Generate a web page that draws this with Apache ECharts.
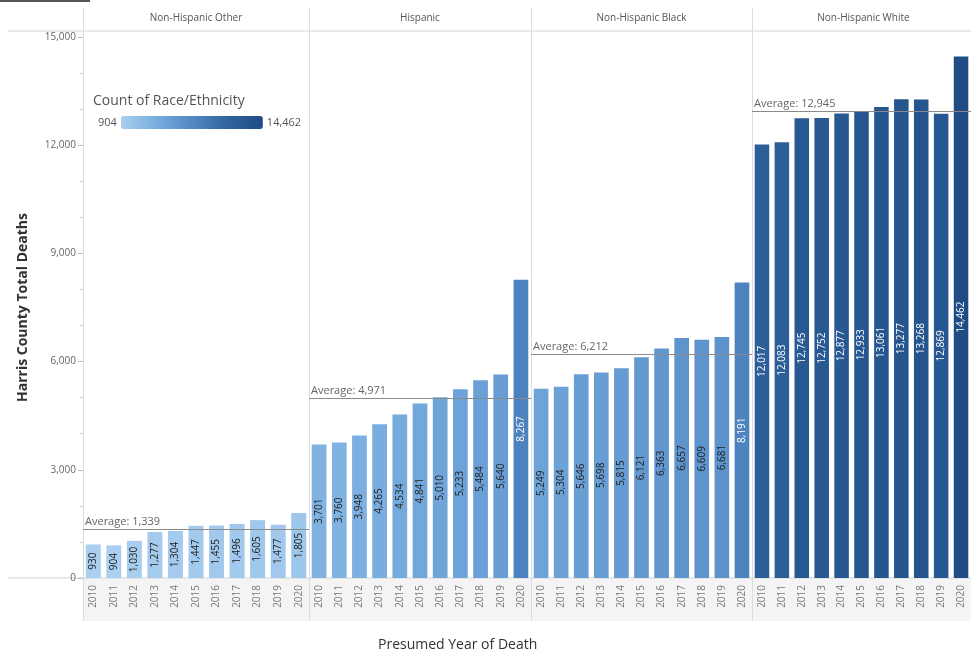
<!DOCTYPE html>
<html>
<head>
<meta charset="utf-8">
<title>Harris County Total Deaths by Race/Ethnicity</title>
<script src="https://cdn.jsdelivr.net/npm/echarts@6/dist/echarts.min.js"></script>
<style>
  html, body { margin: 0; padding: 0; background: #ffffff; }
  #chart { width: 971px; height: 659px; }
</style>
</head>
<body>
<div id="chart"></div>
<script>
// Presumed year of death, shared by every panel
const years = ['2010', '2011', '2012', '2013', '2014', '2015', '2016', '2017', '2018', '2019', '2020'];

// Panel headers (race / ethnicity groups)
const panels = ['Non-Hispanic Other', 'Hispanic', 'Non-Hispanic Black', 'Non-Hispanic White'];

// Total deaths per year for each group
const otherDeaths    = [930, 904, 1030, 1277, 1304, 1447, 1455, 1496, 1605, 1477, 1805];
const hispanicDeaths = [3701, 3760, 3948, 4265, 4534, 4841, 5010, 5233, 5484, 5640, 8267];
const blackDeaths    = [5249, 5304, 5646, 5698, 5815, 6121, 6363, 6657, 6609, 6681, 8191];
const whiteDeaths    = [12017, 12083, 12745, 12752, 12877, 12933, 13061, 13277, 13268, 12869, 14462];

// Per-group average reference lines
const averages = [1339, 4971, 6212, 12945];

// Value axis
const yMin = 0, yMax = 15000, yStep = 3000;

// Colour legend range
const colorMin = 904, colorMax = 14462;

const groups = [otherDeaths, hispanicDeaths, blackDeaths, whiteDeaths];

// Panel geometry (pixels)
const plotTop = 37, plotHeight = 541;
const panelLeft = [83, 309, 531, 752];
const panelWidth = [226, 222, 221, 223];

const fmt = v => Number(v).toLocaleString('en-US');

const chart = echarts.init(document.getElementById('chart'), null, { renderer: 'canvas' });

const grids = [], xAxes = [], yAxes = [], series = [];

groups.forEach((vals, i) => {
  grids.push({ left: panelLeft[i], top: plotTop, width: panelWidth[i], height: plotHeight, containLabel: false });
  xAxes.push({
    type: 'category', gridIndex: i, data: years,
    axisLine: { show: false }, axisTick: { show: false },
    axisLabel: { rotate: 90, fontSize: 10, color: '#7a7a7a', margin: 7, fontFamily: 'Open Sans' }
  });
  yAxes.push({
    type: 'value', gridIndex: i, min: yMin, max: yMax, interval: yStep,
    splitLine: { show: false },
    axisLine: { show: false },
    axisTick: { show: i === 0, length: 5, lineStyle: { color: '#bbbbbb' } },
    minorTick: { show: i === 0, splitNumber: 3, length: 3, lineStyle: { color: '#cccccc' } },
    axisLabel: { show: i === 0, fontSize: 10, color: '#666666', margin: 7, fontFamily: 'Open Sans', formatter: fmt },
    name: i === 0 ? 'Harris County Total Deaths' : '',
    nameLocation: 'middle', nameGap: 53,
    nameTextStyle: { fontSize: 14, fontWeight: 'bold', color: '#333333', fontFamily: 'Open Sans' }
  });
  series.push({
    type: 'bar', name: panels[i], xAxisIndex: i, yAxisIndex: i,
    barCategoryGap: '27%',
    data: vals.map(v => ({
      value: v,
      label: { color: v > 7000 ? '#ffffff' : '#222222' }
    })),
    label: {
      show: true, position: 'inside', rotate: 90, fontSize: 10,
      fontFamily: 'Open Sans', formatter: p => fmt(p.value)
    },
    markLine: {
      silent: true, symbol: 'none',
      lineStyle: { color: '#8a8a8a', width: 1, type: 'solid' },
      label: {
        position: 'insideStartTop', formatter: 'Average: ' + fmt(averages[i]),
        color: '#666666', fontSize: 11, fontFamily: 'Open Sans', distance: [2, 2],
        backgroundColor: 'rgba(255,255,255,0.7)'
      },
      data: [{ yAxis: averages[i] }]
    }
  });
});

// Frame lines, panel headers, axis band and titles
const graphics = [
  { type: 'rect', z: -10, shape: { x: 83, y: 578, width: 900, height: 43 }, style: { fill: '#f4f4f4' } },
  { type: 'rect', shape: { x: 0, y: 0, width: 90, height: 2 }, style: { fill: '#555555' } },
  { type: 'line', shape: { x1: 8, y1: 31, x2: 971, y2: 31 }, style: { stroke: '#d4d4d4', lineWidth: 1 } },
  { type: 'line', shape: { x1: 8, y1: 578, x2: 971, y2: 578 }, style: { stroke: '#d4d4d4', lineWidth: 1 } },
  {
    type: 'text', left: 378, top: 638,
    style: { text: 'Presumed Year of Death', fontSize: 14, fill: '#333333', fontFamily: 'Open Sans' }
  },
  {
    type: 'text', left: 93, top: 94,
    style: { text: 'Count of Race/Ethnicity', fontSize: 14, fill: '#555555', fontFamily: 'Open Sans' }
  }
];
panelLeft.forEach((x, i) => {
  graphics.push({ type: 'line', shape: { x1: x + 0.5, y1: 8, x2: x + 0.5, y2: 621 }, style: { stroke: '#dcdcdc', lineWidth: 1 } });
  graphics.push({
    type: 'text', x: x + panelWidth[i] / 2, y: 18,
    style: { text: panels[i], fontSize: 10, fill: '#555555', fontFamily: 'Open Sans', align: 'center', verticalAlign: 'middle' }
  });
});

chart.setOption({
  animation: false,
  backgroundColor: '#ffffff',
  grid: grids,
  xAxis: xAxes,
  yAxis: yAxes,
  series: series,
  visualMap: {
    type: 'continuous', min: colorMin, max: colorMax,
    seriesIndex: [0, 1, 2, 3], dimension: 1,
    orient: 'horizontal', left: 83, top: 101,
    itemWidth: 13, itemHeight: 142,
    calculable: false, realtime: false,
    text: [fmt(colorMax), fmt(colorMin)], textGap: 4,
    textStyle: { fontSize: 11, color: '#555555', fontFamily: 'Open Sans' },
    inRange: { color: ['#aacff0', '#78addf', '#5288c4', '#31659f', '#1f4c84'] }
  },
  graphic: graphics
});
</script>
</body>
</html>
